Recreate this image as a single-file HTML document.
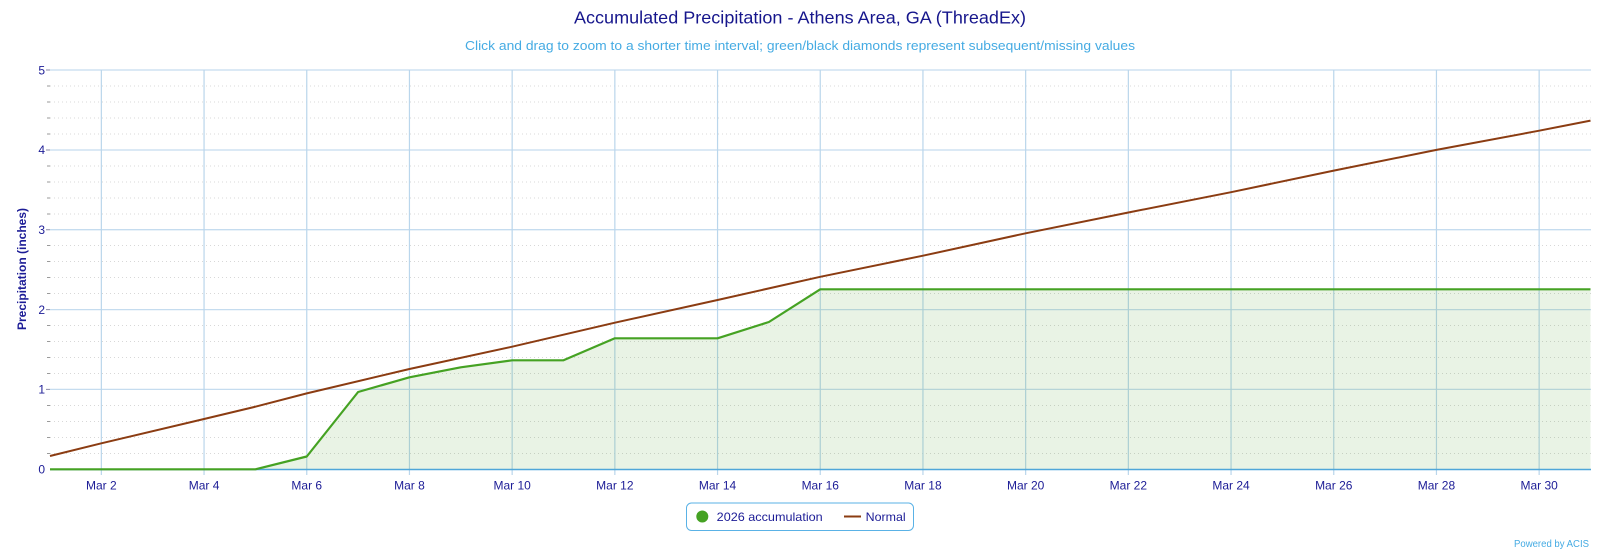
<!DOCTYPE html>
<html><head><meta charset="utf-8"><style>
html,body{margin:0;padding:0;background:#fff;}
svg{display:block;font-family:"Liberation Sans",sans-serif;}
</style></head><body>
<svg width="1600" height="552" viewBox="0 0 1600 552" xmlns="http://www.w3.org/2000/svg">
<rect width="1600" height="552" fill="#fff"/>
<text x="800" y="23.3" text-anchor="middle" font-size="17.5" fill="#16168c" textLength="452" lengthAdjust="spacingAndGlyphs">Accumulated Precipitation - Athens Area, GA (ThreadEx)</text>
<text x="800" y="50" text-anchor="middle" font-size="13" fill="#45abe3" textLength="670" lengthAdjust="spacingAndGlyphs">Click and drag to zoom to a shorter time interval; green/black diamonds represent subsequent/missing values</text>

<!-- minor dotted gridlines -->
<g stroke="#d8d8d8" stroke-width="1" stroke-dasharray="1,3">
<path d="M50 86h1541M50 102h1541M50 118h1541M50 134h1541M50 166h1541M50 182h1541M50 198h1541M50 214h1541M50 245.5h1541M50 261.5h1541M50 277.5h1541M50 293.5h1541M50 325.5h1541M50 341.5h1541M50 357.5h1541M50 373.5h1541M50 405.5h1541M50 421.5h1541M50 437.5h1541M50 453.5h1541"/>
</g>
<g stroke="#9a9a9a" stroke-width="1">
<path d="M47 86h3M47 102h3M47 118h3M47 134h3M47 166h3M47 182h3M47 198h3M47 214h3M47 245.5h3M47 261.5h3M47 277.5h3M47 293.5h3M47 325.5h3M47 341.5h3M47 357.5h3M47 373.5h3M47 405.5h3M47 421.5h3M47 437.5h3M47 453.5h3"/>
</g>
<!-- major horizontal gridlines -->
<g stroke="#c5dcef" stroke-width="1.3">
<path d="M50 70h1541M50 150h1541M50 229.7h1541M50 309.6h1541M50 389.4h1541"/>
</g>
<g stroke="#8a8aa8" stroke-width="1"><path d="M46 70h4M46 150h4M46 229.7h4M46 309.6h4M46 389.4h4"/></g>
<!-- vertical gridlines -->
<g stroke="#bad6ec" stroke-width="1.2">
<path d="M101.35 70V475M204.05 70V475M306.75 70V475M409.45 70V475M512.15 70V475M614.85 70V475M717.55 70V475M820.25 70V475M922.95 70V475M1025.65 70V475M1128.35 70V475M1231.05 70V475M1333.75 70V475M1436.45 70V475M1539.15 70V475"/>
</g>

<!-- green area -->
<path d="M50 469.3 L255.4 469.3 L306.75 456.5 L358.1 392 L409.45 377.3 L460.8 367.3 L512.15 360.3 L563.5 360.3 L614.85 338.3 L717.55 338.3 L768.9 322 L820.25 289.3 L1590.5 289.3 L1590.5 469.3 Z" fill="#4aa02c" fill-opacity="0.12"/>
<!-- x axis -->
<path d="M50 469.5H1591" stroke="#4fa6d9" stroke-width="1.5"/>
<!-- normal -->
<polyline fill="none" stroke="#8b3c12" stroke-width="2" stroke-linejoin="round" points="50,456 101.35,443.3 204.05,419 255.4,406.7 306.75,393.4 409.45,369 512.15,346.7 614.85,322.7 717.55,300 820.25,276.8 922.95,255.7 1025.65,233.3 1128.35,212.5 1231.05,192.2 1333.75,170.6 1436.45,149.9 1539.15,130.7 1590.5,120.6"/>
<!-- green line -->
<polyline fill="none" stroke="#45a223" stroke-width="2.2" stroke-linejoin="round" points="50,469.3 255.4,469.3 306.75,456.5 358.1,392 409.45,377.3 460.8,367.3 512.15,360.3 563.5,360.3 614.85,338.3 717.55,338.3 768.9,322 820.25,289.3 1590.5,289.3"/>

<!-- y labels -->
<g font-size="12" fill="#1c1c96" text-anchor="end">
<text x="45" y="74.3">5</text>
<text x="45" y="154.2">4</text>
<text x="45" y="234">3</text>
<text x="45" y="313.9">2</text>
<text x="45" y="393.7">1</text>
<text x="45" y="473.6">0</text>
</g>
<text transform="translate(26,269) rotate(-90)" text-anchor="middle" font-size="12" font-weight="bold" fill="#1c1c96">Precipitation (inches)</text>

<!-- x labels -->
<g font-size="12" fill="#1c1c96" text-anchor="middle">
<text x="101.35" y="489.5">Mar 2</text>
<text x="204.05" y="489.5">Mar 4</text>
<text x="306.75" y="489.5">Mar 6</text>
<text x="409.45" y="489.5">Mar 8</text>
<text x="512.15" y="489.5">Mar 10</text>
<text x="614.85" y="489.5">Mar 12</text>
<text x="717.55" y="489.5">Mar 14</text>
<text x="820.25" y="489.5">Mar 16</text>
<text x="922.95" y="489.5">Mar 18</text>
<text x="1025.65" y="489.5">Mar 20</text>
<text x="1128.35" y="489.5">Mar 22</text>
<text x="1231.05" y="489.5">Mar 24</text>
<text x="1333.75" y="489.5">Mar 26</text>
<text x="1436.45" y="489.5">Mar 28</text>
<text x="1539.15" y="489.5">Mar 30</text>
</g>

<!-- legend -->
<rect x="686.5" y="503" width="227" height="27.5" rx="5" ry="5" fill="#fff" stroke="#5ab2e6" stroke-width="1"/>
<circle cx="702.3" cy="516.5" r="6" fill="#45a223"/>
<text x="716.7" y="520.8" font-size="12" fill="#1c1c96" textLength="106" lengthAdjust="spacingAndGlyphs">2026 accumulation</text>
<path d="M844 516.5H861" stroke="#8b3c12" stroke-width="2"/>
<text x="865.7" y="520.8" font-size="12" fill="#1c1c96" textLength="40" lengthAdjust="spacingAndGlyphs">Normal</text>

<text x="1589" y="547" text-anchor="end" font-size="10" fill="#45abe3" textLength="75" lengthAdjust="spacingAndGlyphs">Powered by ACIS</text>
</svg>
</body></html>
